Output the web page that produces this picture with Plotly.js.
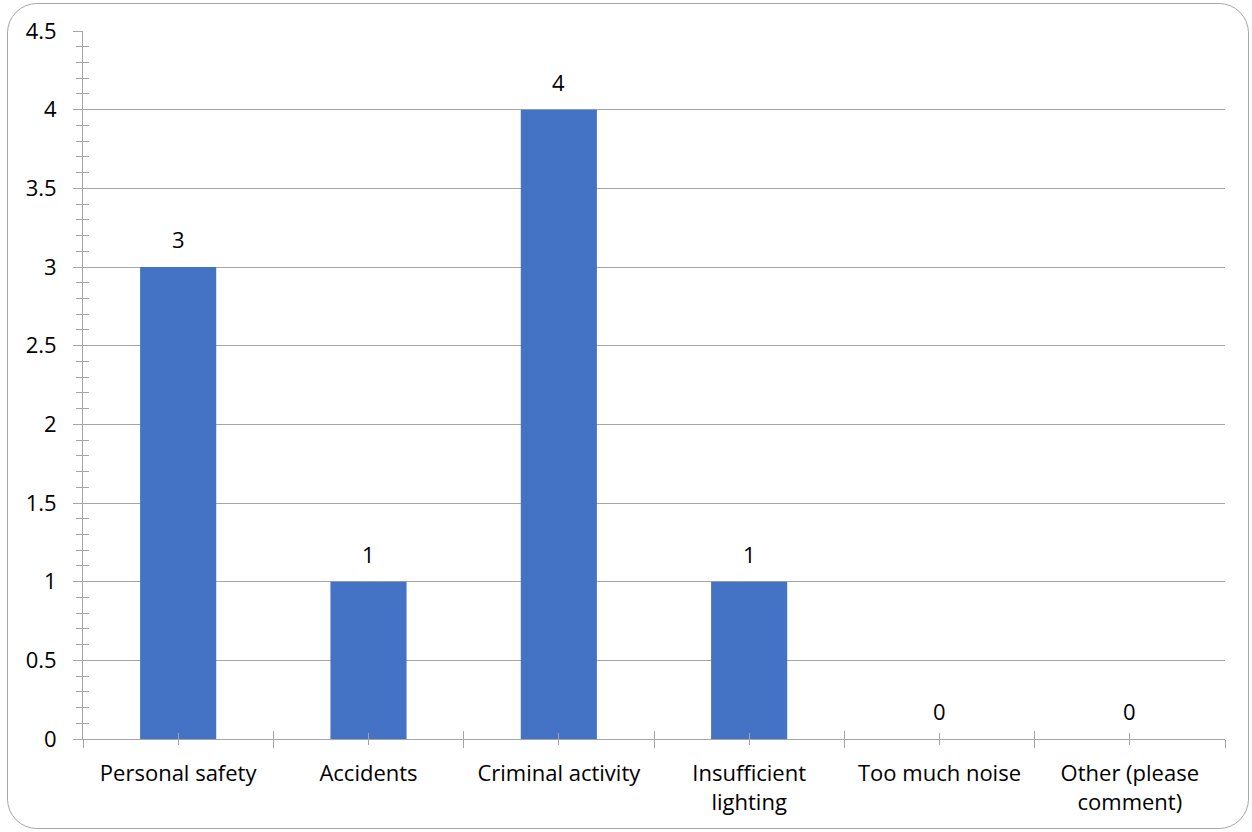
<!DOCTYPE html>
<html>
<head>
<meta charset="utf-8">
<script src="https://cdn.plot.ly/plotly-3.0.1.min.js"></script>
<style>
html,body{margin:0;padding:0;background:#fff;}
#wrap{position:relative;width:1252px;height:832px;}
#chart{width:1252px;height:832px;}
#frame{position:absolute;left:7px;top:3px;width:1242px;height:826px;border:1px solid #a6a6a6;border-radius:30px;pointer-events:none;box-sizing:border-box;}
</style>
</head>
<body>
<div id="wrap"><div id="chart"></div><div id="frame"></div></div>
<script>
const categories = ["Personal safety", "Accidents", "Criminal activity", "Insufficient<br>lighting", "Too much noise", "Other (please<br>comment)"];
const values = [3, 1, 4, 1, 0, 0];
const yTickValues = [0, 0.5, 1, 1.5, 2, 2.5, 3, 3.5, 4, 4.5];
const yTickLabels = ["0", "0.5", "1", "1.5", "2", "2.5", "3", "3.5", "4", "4.5"];

const font = {family: "'Open Sans', sans-serif", size: 22, color: "#000"};
const grey = "#a6a6a6";

const trace = {
  type: "bar",
  x: categories,
  y: values,
  marker: {color: "#4472C4"},
  hoverinfo: "x+y"
};

const annotations = categories.map((c, i) => ({
  x: c, y: values[i], xref: "x", yref: "y",
  text: String(values[i]), showarrow: false,
  yanchor: "bottom", yshift: 11, font: font
}));

const hiddenAxisBase = {
  type: "category", matches: "x", showticklabels: false,
  showline: false, showgrid: false, zeroline: false, tickcolor: grey, tickwidth: 1
};

const layout = {
  width: 1252, height: 832,
  margin: {l: 83, r: 27, t: 31, b: 93},
  paper_bgcolor: "#fff", plot_bgcolor: "#fff",
  font: font,
  showlegend: false,
  bargap: 0.6,
  xaxis: {
    type: "category",
    tickson: "boundaries",
    ticks: "outside", ticklen: 8, tickcolor: grey, tickwidth: 1,
    showline: true, linecolor: grey, linewidth: 1,
    showgrid: false, zeroline: false,
    tickfont: font,
    ticklabelstandoff: 15,
    fixedrange: true
  },
  xaxis2: Object.assign({}, hiddenAxisBase, {overlaying: "x", anchor: "y2", ticks: "outside", ticklen: 5}),
  xaxis3: Object.assign({}, hiddenAxisBase, {overlaying: "x", anchor: "y2", ticks: "inside", ticklen: 8, tickson: "boundaries"}),
  xaxis4: Object.assign({}, hiddenAxisBase, {overlaying: "x", anchor: "y2", ticks: "inside", ticklen: 6}),
  yaxis: {
    range: [0, 4.5],
    tickvals: yTickValues, ticktext: yTickLabels,
    ticks: "outside", ticklen: 9, tickcolor: grey, tickwidth: 1,
    minor: {dtick: 0.1, ticks: "outside", ticklen: 6, tickcolor: grey, showgrid: false},
    showline: true, linecolor: grey, linewidth: 1,
    showgrid: true, gridcolor: grey, gridwidth: 1,
    zeroline: false,
    tickfont: font,
    ticklabelstandoff: 12,
    fixedrange: true
  },
  yaxis2: {
    overlaying: "y", matches: "y", side: "left", anchor: "x",
    tickvals: yTickValues, showticklabels: false,
    ticks: "inside", ticklen: 7, tickcolor: grey, tickwidth: 1,
    minor: {dtick: 0.1, ticks: "inside", ticklen: 6, tickcolor: grey, showgrid: false},
    showline: false, showgrid: false, zeroline: false
  },
  annotations: annotations
};

const ghostTraces = ["x2", "x3", "x4"].map(ax => ({
  type: "bar", x: categories, y: values.map(() => 0), xaxis: ax, yaxis: "y2",
  hoverinfo: "skip", marker: {color: "rgba(0,0,0,0)"}
}));

Plotly.newPlot("chart", [trace].concat(ghostTraces), layout, {displayModeBar: false, staticPlot: true});
</script>
</body>
</html>
